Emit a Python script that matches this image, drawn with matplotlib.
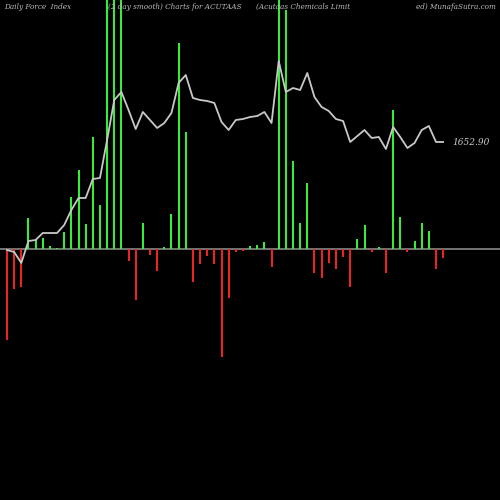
import matplotlib
matplotlib.use("Agg")
import matplotlib.pyplot as plt
import numpy as np

force = [-91,-40,-38,31,9,11,3,1,17,52,79,25,112,44,300,300,300,-12,-51,26,-6,-22,2,35,206,117,
         -33,-15,-7,-15,-108,-49,-3,-2,3,4,7,-18,300,239,88,26,66,-24,-29,-14,-20,-8,-38,10,24,-3,2,-24,
         139,32,-3,8,26,18,-20,-9]
price = [1436.9,1432.9,1410.9,1454.9,1456.9,1470.9,1470.9,1470.9,1486.9,1516.9,1540.9,1540.9,1578.9,1580.9,
         1656.9,1736.9,1752.9,1716.9,1678.9,1712.9,1696.9,1680.9,1690.9,1710.9,1770.9,1786.9,1740.9,1736.9,
         1734.9,1730.9,1692.9,1676.9,1696.9,1698.9,1702.9,1704.9,1712.9,1690.9,1814.9,1752.9,1760.9,1756.9,
         1790.9,1742.9,1722.9,1714.9,1698.9,1694.9,1652.9,1664.9,1676.9,1660.9,1662.9,1638.9,1682.9,1662.9,
         1640.9,1650.9,1676.9,1684.9,1652.9,1652.9]
last_label = "1652.90"

fig = plt.figure(figsize=(5,5), dpi=100, facecolor="black")
ax = fig.add_axes([0,0,1,1], facecolor="black")
x = 7 + np.arange(len(force))*7.15
cols = ["#33ee33" if v >= 0 else "#ee2222" for v in force]
ax.bar(x, force, width=2, color=cols)
ax.axhline(0, color="#888888", lw=1.2, zorder=0)
ax.set_xlim(0,500); ax.set_ylim(-251,249)
ax.axis("off")
ax2 = ax.twinx()
ax2.set_ylim(936.9,1936.9)
ax2.plot(x, price, color="#c8c8c8", lw=1.3)
ax2.text(452, price[-1], last_label, color="#cccccc", fontsize=6.5, family="DejaVu Serif", style="italic", va="center")
ax2.axis("off")
tk = dict(color="#bbbbbb", fontsize=5.2, family="DejaVu Serif", style="italic", va="top", transform=fig.transFigure)
fig.text(4/500, 1-3/500, "Daily Force  Index", **tk)
fig.text(108/500, 1-3/500, "(2 day smooth) Charts for ACUTAAS", **tk)
fig.text(256/500, 1-3/500, "(Acutaas Chemicals Limit", **tk)
fig.text(496/500, 1-3/500, "ed) MunafaSutra.com", ha="right", **{k:v for k,v in tk.items()})
fig.savefig("out.png", dpi=100, facecolor="black")
